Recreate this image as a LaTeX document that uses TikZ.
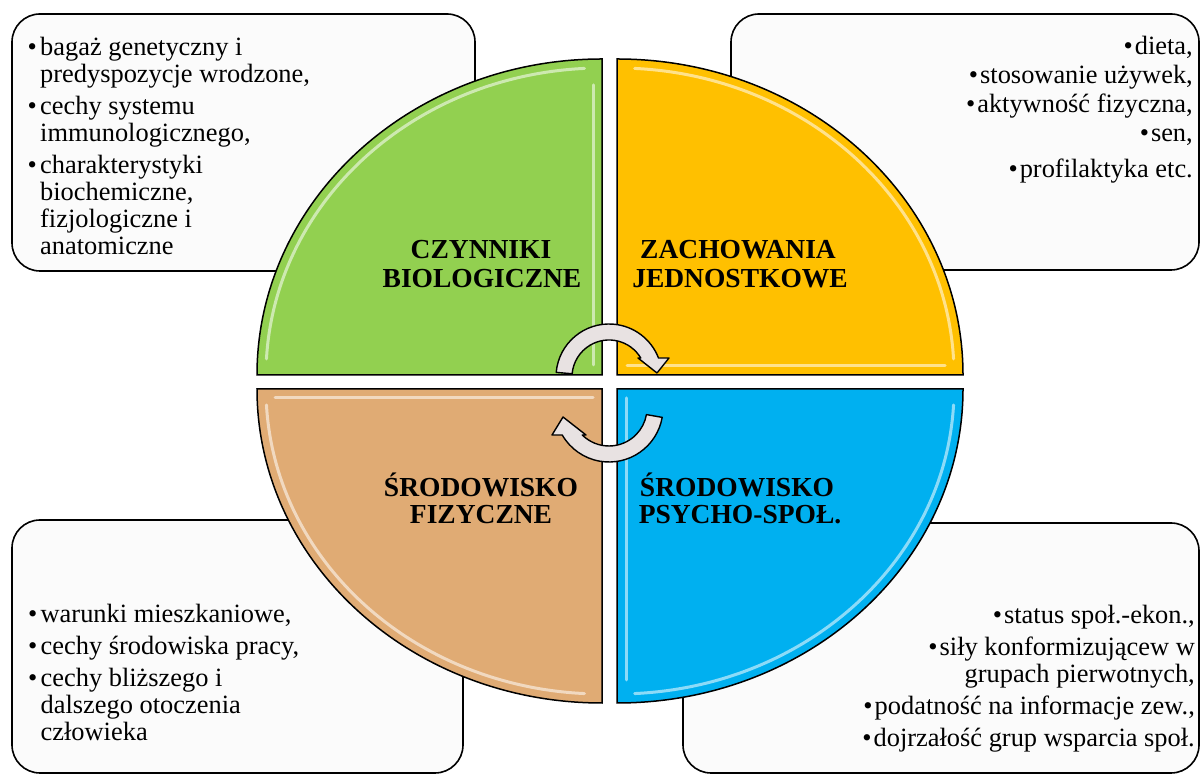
\documentclass[tikz,border=0pt]{standalone}
\usepackage{fontspec}
\setmainfont{Liberation Serif}
\definecolor{qgreen}{RGB}{146,208,80}
\definecolor{qyellow}{RGB}{255,192,0}
\definecolor{qbrown}{RGB}{224,171,116}
\definecolor{qblue}{RGB}{0,176,240}
\definecolor{boxfill}{RGB}{251,251,251}
\definecolor{arrfill}{RGB}{232,226,226}
\newcommand{\bl}{\makebox[12.5pt][l]{\textbullet}}
\newcommand{\ind}{\hspace*{12.5pt}}
\newcommand{\rb}{\textbullet\hspace{2pt}}
\begin{document}
\begin{tikzpicture}[x=1pt,y=1pt,
  infobox/.style={draw=black, line width=1.6pt, fill=boxfill, rounded corners=28pt},
  quad/.style={draw=black, line width=1.5pt},
  hl/.style={draw=white, opacity=0.55, line width=3pt, line cap=round},
  cyc/.style={draw=black, line width=1.4pt, fill=arrfill, line join=round},
  lbl/.style={font=\fontsize{27.5}{29}\selectfont\bfseries, inner sep=0pt, anchor=base},
  txt/.style={font=\fontsize{26.4}{27}\selectfont, inner sep=0pt}]
\useasboundingbox (0,0) rectangle (1201,775);
% info boxes
\draw[infobox] (12,504) rectangle (475,761);
\draw[infobox] (731,505) rectangle (1199,761);
\draw[infobox] (12,2) rectangle (463,255);
\draw[infobox] (683,2) rectangle (1199,252);
% quadrants
\draw[quad, fill=qgreen] (602,400) -- (602,716) arc[start angle=90, end angle=180, x radius=345, y radius=316] -- cycle;
\draw[quad, fill=qyellow] (617,400) -- (963,400) arc[start angle=0, end angle=90, x radius=346, y radius=316] -- cycle;
\draw[quad, fill=qbrown] (602,386) -- (257,386) arc[start angle=180, end angle=270, x radius=345, y radius=314] -- cycle;
\draw[quad, fill=qblue] (617,386) -- (617,72) arc[start angle=270, end angle=360, x radius=346, y radius=314] -- cycle;
% bevel highlights
\draw[hl] ([shift={(93:336 and 307)}]602,400) arc[start angle=93, end angle=177, x radius=336, y radius=307];
\draw[hl] (593,410) -- (593,690);
\draw[hl] ([shift={(3:337 and 307)}]617,400) arc[start angle=3, end angle=87, x radius=337, y radius=307];
\draw[hl] (627,409) -- (945,409);
\draw[hl] ([shift={(183:336 and 305)}]602,386) arc[start angle=183, end angle=267, x radius=336, y radius=305];
\draw[hl] (275,377) -- (593,377);
\draw[hl] ([shift={(273:337 and 305)}]617,386) arc[start angle=273, end angle=357, x radius=337, y radius=305];
\draw[hl] (626,377) -- (626,95);
% quadrant labels
\node[lbl] (l1a) at (481,516) {CZYNNIKI};
\node[lbl] (l1b) at (482,487) {BIOLOGICZNE};
\node[lbl] (l2a) at (738,516) {ZACHOWANIA};
\node[lbl] (l2b) at (740,487) {JEDNOSTKOWE};
\node[lbl] (l3a) at (481,278) {ŚRODOWISKO};
\node[lbl] (l3b) at (481,251) {FIZYCZNE};
\node[lbl] (l4a) at (737,278) {ŚRODOWISKO};
\node[lbl] (l4b) at (740,251) {PSYCHO-SPOŁ.};
% cycle arrows
\begin{scope}[shift={(609,398)}]
\path[cyc] (175:53) arc[start angle=175, end angle=21, radius=53] -- (60,19) -- (48,4) -- (29,19) -- (30.9:37) arc[start angle=30.9, end angle=175, radius=37] -- cycle;
\end{scope}
\begin{scope}[shift={(609,367)}]
\path[cyc] (-10:54) arc[start angle=-10, end angle=-150, radius=54] -- (-57,-27) -- (-46,-9) -- (-23,-27) -- (-134.7:38) arc[start angle=-134.7, end angle=-10, radius=38] -- cycle;
\end{scope}
% box texts
\node[txt, anchor=north west, align=left] (tltext) at (27.5,738.9) {\strut\bl bagaż genetyczny i\\
\ind predyspozycje wrodzone,\\[5pt]
\bl cechy systemu\\
\ind immunologicznego,\\[5pt]
\bl charakterystyki\\
\ind biochemiczne,\\
\ind fizjologiczne i\\
\ind anatomiczne};
\node[txt, anchor=north east, align=right] (trtext) at (1193,739.9) {\strut\rb dieta,\\[2pt]
\rb stosowanie używek,\\[2pt]
\rb aktywność fizyczna,\\[2pt]
\rb sen,\\[9pt]
\rb profilaktyka etc.};
\node[txt, anchor=north west, align=left] (bltext) at (28,171.9) {\strut\bl warunki mieszkaniowe,\\[5pt]
\bl cechy środowiska pracy,\\[5pt]
\bl cechy bliższego i\\
\ind dalszego otoczenia\\
\ind człowieka};
\node[txt, anchor=north east, align=right] (brtext) at (1195,170.9) {\strut\rb status społ.-ekon.,\\[5pt]
\rb siły konformizującew w\\
grupach pierwotnych,\\[5pt]
\rb podatność na informacje zew.,\\[5pt]
\rb dojrzałość grup wsparcia społ.};
\end{tikzpicture}
\end{document}
